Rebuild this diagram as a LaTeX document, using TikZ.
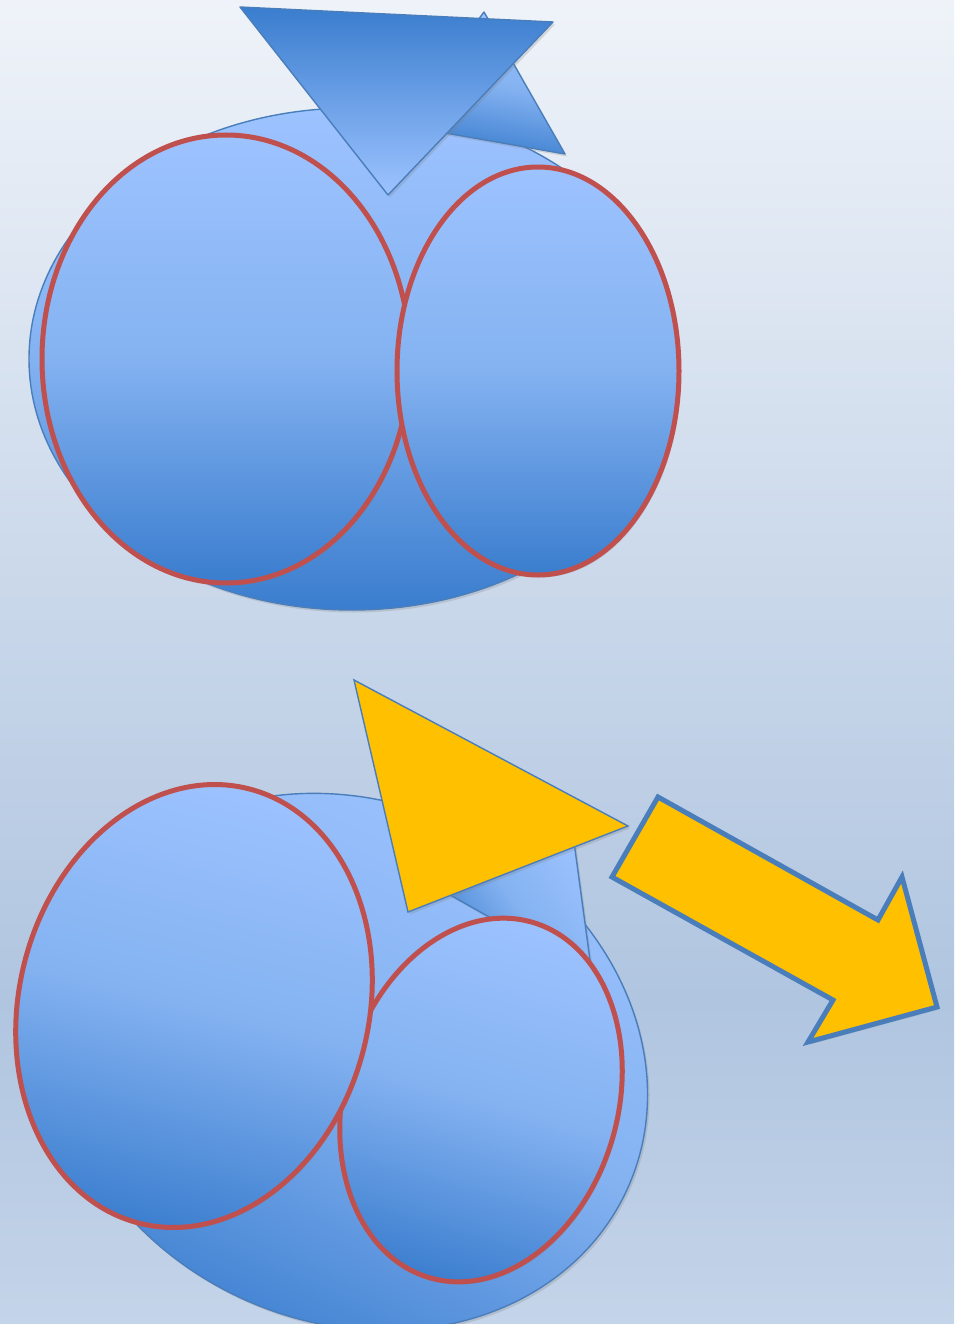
\documentclass[tikz,border=0pt]{standalone}
\usepackage{xcolor}
\usepackage{tikz}
\usetikzlibrary{shadows}
\definecolor{bgTop}{HTML}{EFF3F9}
\definecolor{bgMid}{HTML}{B0C5E0}
\definecolor{bgBottom}{HTML}{C4D4E9}
\definecolor{blueLight}{HTML}{9DC3FF}
\definecolor{blueMid}{HTML}{84B2F1}
\definecolor{blueDark}{HTML}{3A7DCE}
\definecolor{lineBlue}{HTML}{4A7EBB}
\definecolor{ringRed}{HTML}{C0504D}
\definecolor{fillYellow}{HTML}{FFC000}

\begin{document}
\begin{tikzpicture}[
    x=1pt, y=-1pt,
    softshadow/.style={drop shadow={opacity=.25, shadow xshift=2pt, shadow yshift=-2.5pt}},
    blueshape/.style={draw=lineBlue, line width=1.4pt, line join=round,
      top color=blueLight, bottom color=blueDark, middle color=blueMid, softshadow},
    redring/.style={blueshape, draw=ringRed, line width=5pt},
    yellowshape/.style={draw=lineBlue, line width=1.4pt, line join=miter, fill=fillYellow, softshadow}
  ]
  % background
  \useasboundingbox (0,0) rectangle (954,1324);
  \shade[top color=bgTop, bottom color=bgMid] (0,0) rectangle (954,1000);
  \shade[top color=bgMid, bottom color=bgBottom] (0,1000) rectangle (954,1324);

  % Top group
  \draw[blueshape] (352,359) ellipse [x radius=323, y radius=251];
  \draw[blueshape, shading angle=-10] (484,12) -- (565,154) -- (400,125) -- cycle;
  \draw[blueshape, top color=blueDark, bottom color=blueLight] (240,7) -- (553,22) -- (388,195) -- cycle;
  \draw[redring] (226,359) ellipse [x radius=184, y radius=224];
  \draw[redring] (538,371) ellipse [x radius=141, y radius=204];

  % Bottom group
  \draw[blueshape, shading angle=-25, rotate around={-25:(350,1062)}]
    (350,1062) ellipse [x radius=305, y radius=260];
  \draw[blueshape, shading angle=-55] (569,805) -- (592,975) -- (420,878) -- cycle;
  \draw[yellowshape] (354,680) -- (628,826) -- (408,912) -- cycle;
  \draw[redring, shading angle=-16, rotate around={-16:(481,1100)}]
    (481,1100) ellipse [x radius=137, y radius=185];
  \draw[redring, shading angle=-14, rotate around={-14:(194,1006)}]
    (194,1006) ellipse [x radius=175, y radius=224];

  % Arrow
  \draw[yellowshape, line width=5pt] (658,797) -- (878,920) -- (902,877) -- (937,1007)
    -- (808,1042) -- (833,1000) -- (612,877) -- cycle;
\end{tikzpicture}
\end{document}
